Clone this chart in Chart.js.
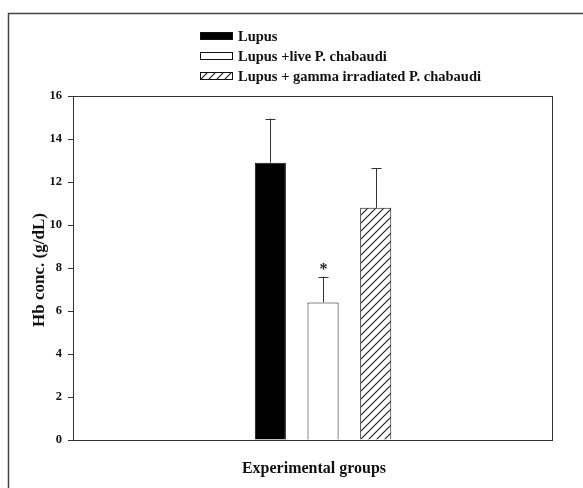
<!DOCTYPE html>
<html>
<head>
<meta charset="utf-8">
<script src="https://cdn.jsdelivr.net/npm/chart.js@4/dist/chart.umd.min.js"></script>
<style>
  body { margin: 0; background: #fff; }
</style>
</head>
<body>
<canvas id="myChart" width="583" height="488"></canvas>
<script>
// Data
const groups = ["Lupus", "Lupus +live P. chabaudi", "Lupus + gamma irradiated P. chabaudi"];
const hb_means = [12.9, 6.4, 10.8];
const hb_errors = [2.05, 1.2, 1.85];
const marks = ["", "*", ""];
const y_ticks = [0, 2, 4, 6, 8, 10, 12, 14, 16];

const serif = "'Liberation Serif', 'Times New Roman', serif";
const ctx = document.getElementById("myChart").getContext("2d");

// Hatch pattern for the third group
function makeHatch() {
  const s = 8;
  const c = document.createElement("canvas");
  c.width = s;
  c.height = s;
  const p = c.getContext("2d");
  p.fillStyle = "#fff";
  p.fillRect(0, 0, s, s);
  p.strokeStyle = "#222";
  p.lineWidth = 1.2;
  p.beginPath();
  p.moveTo(0, s); p.lineTo(s, 0);
  p.moveTo(-1, 1); p.lineTo(1, -1);
  p.moveTo(s - 1, s + 1); p.lineTo(s + 1, s - 1);
  p.stroke();
  return ctx.createPattern(c, "repeat");
}

const fills = ["#000", "#fff", makeHatch()];

// Plugins
const framePlugin = {
  id: "frame",
  beforeDraw(chart) {
    const c = chart.ctx;
    c.save();
    c.fillStyle = "#fff";
    c.fillRect(0, 0, chart.width, chart.height);
    c.strokeStyle = "#444";
    c.lineWidth = 1.5;
    c.beginPath();
    c.moveTo(8.5, chart.height);
    c.lineTo(8.5, 13.5);
    c.lineTo(chart.width, 13.5);
    c.stroke();
    c.restore();
  },
  afterDatasetsDraw(chart) {
    const c = chart.ctx;
    const a = chart.chartArea;
    const y = chart.scales.y;
    c.save();
    c.strokeStyle = "#333";
    c.lineWidth = 1;
    c.strokeRect(Math.round(a.left) + 0.5, Math.round(a.top) + 0.5,
      Math.round(a.right - a.left), Math.round(a.bottom - a.top));

    // error bars + significance marks
    chart.data.datasets.forEach((ds, i) => {
      const bar = chart.getDatasetMeta(i).data[0];
      const x = Math.round(bar.x) + 0.5;
      const top = y.getPixelForValue(hb_means[i]);
      const errTop = y.getPixelForValue(hb_means[i] + hb_errors[i]);
      c.strokeStyle = "#333";
      c.beginPath();
      c.moveTo(x, top);
      c.lineTo(x, errTop);
      c.moveTo(x - 5, Math.round(errTop) + 0.5);
      c.lineTo(x + 5, Math.round(errTop) + 0.5);
      c.stroke();
      if (marks[i]) {
        c.fillStyle = "#222";
        c.font = "bold 16px " + serif;
        c.textAlign = "center";
        c.textBaseline = "middle";
        c.fillText(marks[i], x, errTop - 7);
      }
    });

    // axis titles
    c.fillStyle = "#111";
    c.textAlign = "center";
    c.textBaseline = "middle";
    c.font = "bold 16px " + serif;
    c.fillText("Experimental groups", 314, 469);
    c.save();
    c.translate(40, 270);
    c.rotate(-Math.PI / 2);
    c.font = "bold 17px " + serif;
    c.fillText("Hb conc. (g/dL)", 0, 0);
    c.restore();

    // legend
    c.font = "bold 14.5px " + serif;
    c.textAlign = "left";
    chart.data.datasets.forEach((ds, i) => {
      const ly = 36 + i * 20;
      c.fillStyle = ds.backgroundColor;
      c.fillRect(200, ly - 3.5, 32, 7);
      c.strokeStyle = "#111";
      c.strokeRect(200.5, ly - 3.5, 32, 7);
      c.fillStyle = "#111";
      c.fillText(ds.label, 238, ly + 1);
    });
    c.restore();
  }
};

// Chart object
const myChart = new Chart(ctx, {
  type: "bar",
  data: {
    labels: [""],
    datasets: groups.map((g, i) => ({
      label: g,
      data: [hb_means[i]],
      backgroundColor: fills[i],
      borderColor: "#111",
      borderWidth: 1,
      borderSkipped: "bottom",
      categoryPercentage: 0.33,
      barPercentage: 0.59
    }))
  },
  options: {
    responsive: false,
    animation: false,
    layout: { padding: { top: 96, right: 31, bottom: 48, left: 0 } },
    plugins: { legend: { display: false }, tooltip: { enabled: false } },
    scales: {
      x: {
        grid: { display: false },
        border: { display: false },
        ticks: { display: false },
        // the group sits a little right of the axis centre in the original
        afterDataLimits: (scale) => {
          scale.min = -0.022;
          scale.max = -0.022;
        },
        afterFit: (scale) => { scale.height = 0; }
      },
      y: {
        min: 0,
        max: 16,
        afterBuildTicks: (scale) => {
          scale.ticks = y_ticks.map((v) => ({ value: v }));
        },
        afterFit: (scale) => { scale.width = 73; },
        grid: {
          drawOnChartArea: false,
          drawTicks: true,
          tickLength: 5,
          color: "#333"
        },
        border: { display: false },
        ticks: {
          color: "#111",
          padding: 6,
          font: { family: serif, size: 12.5, weight: "bold" }
        }
      }
    }
  },
  plugins: [framePlugin]
});
</script>
</body>
</html>
